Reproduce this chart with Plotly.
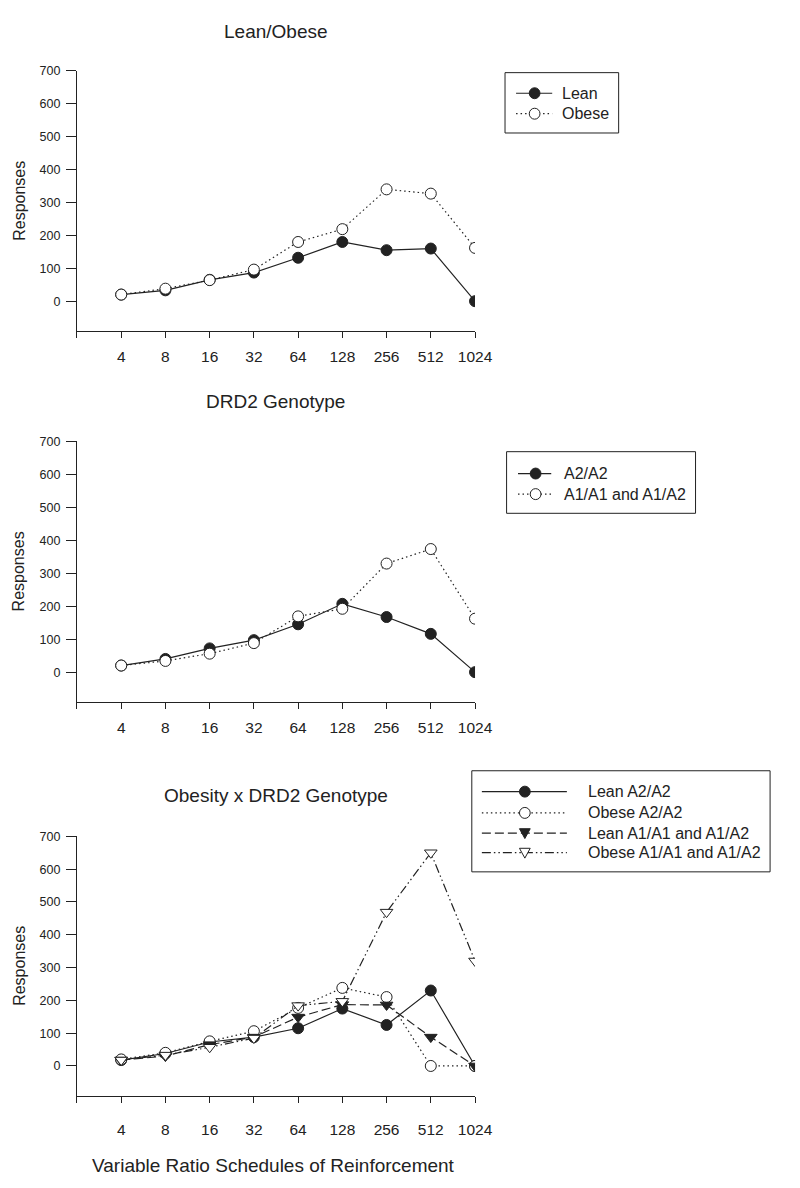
import plotly.graph_objects as go

# the page body has an 8px margin; size the figure so the page does not overflow
OFF = 8
W, H = 800 - 2 * OFF, 1188 - 2 * OFF

schedules = ["4", "8", "16", "32", "64", "128", "256", "512", "1024"]
positions = [1, 2, 3, 4, 5, 6, 7, 8, 9]

# panel 1 - Lean/Obese
lean = [20, 33, 65, 87, 132, 180, 155, 160, 0]
obese = [20, 38, 64, 96, 180, 219, 340, 327, 162]

# panel 2 - DRD2 genotype
a2a2 = [20, 40, 72, 97, 145, 207, 167, 116, 0]
a1_carriers = [20, 34, 56, 88, 169, 192, 329, 373, 162]

# panel 3 - obesity x genotype
lean_a2a2 = [18, 38, 73, 88, 115, 175, 125, 230, 0]
obese_a2a2 = [20, 40, 75, 106, 177, 238, 210, 0, 0]
lean_a1 = [18, 30, 65, 88, 149, 187, 186, 88, 0]
obese_a1 = [18, 33, 57, 85, 184, 197, 469, 650, 320]

INK = "#222222"
FONT = "Liberation Sans, Arial, sans-serif"

DOT = "1.5px,3px"
DASH = "9px,4px"
DASHDOTDOT = "9px,3px,1.5px,3px,1.5px,3px"

MARKERS = {
    "filled": ("circle", INK),
    "open": ("circle", "white"),
    "filled_tri": ("triangle-down", INK),
    "open_tri": ("triangle-down", "white"),
}


def px_x(x):
    return (x - OFF) / W


def px_y(y):
    return 1 - (y - OFF) / H


fig = go.Figure()


def add_series(name, values, panel, marker, dash):
    sfx = "" if panel == 1 else str(panel)
    symbol, fill = MARKERS[marker]
    fig.add_trace(go.Scatter(
        x=positions, y=values, name=name, mode="lines+markers",
        line=dict(color=INK, width=1.2, dash=dash),
        marker=dict(size=11, symbol=symbol, color=fill, line=dict(color=INK, width=1)),
        xaxis="x" + sfx, yaxis="y" + sfx, showlegend=False,
    ))


add_series("Lean", lean, 1, "filled", "solid")
add_series("Obese", obese, 1, "open", DOT)
add_series("A2/A2", a2a2, 2, "filled", "solid")
add_series("A1/A1 and A1/A2", a1_carriers, 2, "open", DOT)
add_series("Lean A2/A2", lean_a2a2, 3, "filled", "solid")
add_series("Obese A2/A2", obese_a2a2, 3, "open", DOT)
add_series("Lean A1/A1 and A1/A2", lean_a1, 3, "filled_tri", DASH)
add_series("Obese A1/A1 and A1/A2", obese_a1, 3, "open_tri", DASHDOTDOT)

# pixel extents of each panel: (700 tick, bottom axis line, tick label gap)
panels = [(64.3, 326.0, 5), (436.7, 699.3, 5), (834.3, 1095.3, 14)]
x_dom = [px_x(78.6), px_x(486)]

layout = dict(
    width=W, height=H,
    margin=dict(l=0, r=0, t=0, b=0),
    paper_bgcolor="white", plot_bgcolor="white",
    font=dict(family=FONT, color=INK),
    showlegend=False,
)

for i, (top, bottom, gap) in enumerate(panels, start=1):
    sfx = "" if i == 1 else str(i)
    layout["xaxis" + sfx] = dict(
        domain=x_dom, range=[0, 9],
        tickvals=[0] + positions, ticktext=[""] + schedules,
        ticks="outside", ticklen=6, tickcolor=INK,
        showline=True, linecolor=INK, linewidth=1,
        showgrid=False, zeroline=False,
        tickfont=dict(size=15.5), ticklabelstandoff=gap,
        anchor="y" + sfx, fixedrange=True,
    )
    layout["yaxis" + sfx] = dict(
        domain=[px_y(bottom), px_y(top)], range=[-91, 700],
        tickvals=[0, 100, 200, 300, 400, 500, 600, 700],
        ticks="outside", ticklen=10, tickcolor=INK,
        showline=True, linecolor=INK, linewidth=1,
        showgrid=False, zeroline=False,
        tickfont=dict(size=12.5), ticklabelstandoff=3,
        anchor="x" + sfx, fixedrange=True,
    )

fig.update_layout(**layout)

titles = [("Lean/Obese", 24.3), ("DRD2 Genotype", 397.3), ("Obesity x DRD2 Genotype", 793.3)]
for text, ty in titles:
    fig.add_annotation(text=text, xref="paper", yref="paper", x=px_x(282), y=px_y(ty),
                       showarrow=False, font=dict(size=19), xanchor="center", yanchor="middle")

for top, bottom, _ in panels:
    fig.add_annotation(text="Responses", xref="paper", yref="paper", x=px_x(19),
                       y=px_y((top + bottom) / 2), textangle=-90, showarrow=False,
                       font=dict(size=16), xanchor="center", yanchor="middle")

fig.add_annotation(text="Variable Ratio Schedules of Reinforcement", xref="paper", yref="paper",
                   x=px_x(280), y=px_y(1165), showarrow=False, font=dict(size=19),
                   xanchor="center", yanchor="middle")


# legends, drawn as boxed keys like the original figure
def legend_marker(kind, cx, cy, r=5.5):
    symbol, fill = MARKERS[kind]
    style = dict(xref="paper", yref="paper", fillcolor=fill, line=dict(color=INK, width=1))
    if symbol == "circle":
        fig.add_shape(type="circle", x0=px_x(cx - r), x1=px_x(cx + r),
                      y0=px_y(cy + r), y1=px_y(cy - r), **style)
    else:
        pts = [(cx - r, cy - r * 0.8), (cx + r, cy - r * 0.8), (cx, cy + r)]
        path = "M" + " L".join(f"{px_x(x):.5f},{px_y(y):.5f}" for x, y in pts) + " Z"
        fig.add_shape(type="path", path=path, **style)


def add_key(box, rows, line_x, marker_x, text_x, entries):
    x0, y0, x1, y1 = box
    fig.add_shape(type="rect", xref="paper", yref="paper",
                  x0=px_x(x0), x1=px_x(x1), y0=px_y(y1), y1=px_y(y0),
                  line=dict(color=INK, width=1), fillcolor="white")
    for ry, (label, kind, dash) in zip(rows, entries):
        fig.add_shape(type="line", xref="paper", yref="paper",
                      x0=px_x(line_x[0]), x1=px_x(line_x[1]), y0=px_y(ry), y1=px_y(ry),
                      line=dict(color=INK, width=1.2, dash=dash))
        legend_marker(kind, marker_x, ry)
        fig.add_annotation(text=label, xref="paper", yref="paper", x=px_x(text_x), y=px_y(ry),
                           showarrow=False, font=dict(size=16), xanchor="left", yanchor="middle")


add_key((516.7, 66, 633, 126.7), [86.7, 107.3], (528, 565), 547, 573,
        [("Lean", "filled", "solid"), ("Obese", "open", DOT)])
add_key((518.3, 447.3, 711.7, 509.3), [469.3, 490], (530, 564), 548, 575,
        [("A2/A2", "filled", "solid"), ("A1/A1 and A1/A2", "open", DOT)])
add_key((482.7, 768.3, 788, 870), [789.3, 810.7, 831, 850.7], (493, 580), 537, 600,
        [("Lean A2/A2", "filled", "solid"), ("Obese A2/A2", "open", DOT),
         ("Lean A1/A1 and A1/A2", "filled_tri", DASH),
         ("Obese A1/A1 and A1/A2", "open_tri", DASHDOTDOT)])

fig.write_html("out.html")
